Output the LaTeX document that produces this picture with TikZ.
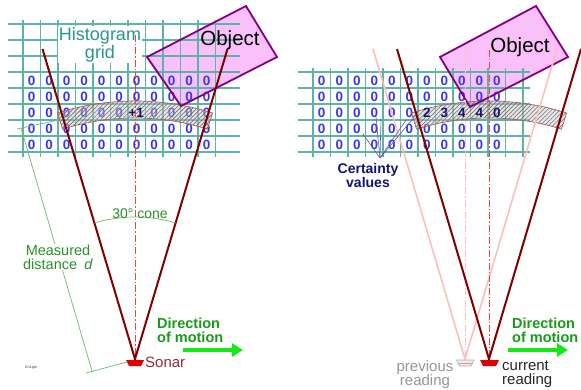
\documentclass[tikz,border=0pt]{standalone}
\usepackage{fontspec}
\setmainfont{Liberation Sans}
\usetikzlibrary{arrows.meta,patterns.meta}
\definecolor{gridc}{RGB}{95,178,168}
\definecolor{gridtext}{RGB}{40,150,140}
\definecolor{zeroc}{RGB}{55,55,240}
\definecolor{navyc}{RGB}{20,20,110}
\definecolor{maroonc}{RGB}{128,0,0}
\definecolor{pinkc}{RGB}{255,190,190}
\definecolor{redc}{RGB}{235,70,70}
\definecolor{objfill}{RGB}{250,192,250}
\definecolor{objdraw}{RGB}{128,0,128}
\definecolor{greenc}{RGB}{40,145,40}
\definecolor{dimc}{RGB}{110,185,110}
\definecolor{dirc}{RGB}{25,155,25}
\definecolor{arrowc}{RGB}{20,235,20}
\definecolor{sonarred}{RGB}{225,0,0}
\definecolor{sonartext}{RGB}{150,40,60}
\definecolor{bandedgec}{RGB}{175,90,90}
\definecolor{prevgray}{RGB}{150,150,150}
\definecolor{certline}{RGB}{90,90,160}
\newcommand\bandpath[1]{plot[domain=-107.5:-72.5,samples=40] ({#1+258*cos(\x)},{359+258*sin(\x)}) -- plot[domain=-72.5:-107.5,samples=40] ({#1+241*cos(\x)},{359+241*sin(\x)}) -- cycle}
\begin{document}
\begin{tikzpicture}[x=1pt,y=-1pt,
  gridline/.style={draw=gridc, line width=1.1pt},
  zero/.style={text=zeroc, font=\bfseries\fontsize{13.5}{13.5}\selectfont, inner sep=0pt},
  boldnum/.style={text=navyc, font=\bfseries\fontsize{13.5}{13.5}\selectfont, inner sep=0pt},
  cone/.style={draw=maroonc, line width=2pt},
  prevcone/.style={draw=pinkc, line width=1.6pt},
  axisline/.style={draw=#1, line width=0.8pt, dash pattern=on 7pt off 2pt on 1.5pt off 2pt},
  objline/.style={draw=objdraw, line width=1.8pt},
  objtext/.style={font=\fontsize{20.5}{20.5}\selectfont, text=black, inner sep=0pt, anchor=base},
  greentext/.style={text=greenc, font=\fontsize{14.5}{14}\selectfont, align=center},
  dimline/.style={draw=dimc, line width=0.7pt},
  dirtext/.style={text=dirc, font=\bfseries\fontsize{14.5}{14}\selectfont, align=left, inner sep=0pt, anchor=north west},
  motionarrow/.style={draw=arrowc, line width=4pt, -{Triangle[length=11pt,width=13pt]}},
  bandfill/.style={fill=gray!40, fill opacity=0.45},
  bandhatch/.style={pattern={Lines[angle=45,distance=3pt,line width=0.6pt]}, pattern color=gray!85!black},
  bandedge/.style={draw=bandedgec, line width=0.7pt},
  labeltext/.style={font=\fontsize{15}{14}\selectfont, inner sep=0pt, align=#1},
]
\useasboundingbox (0,0) rectangle (581,390);
\fill[white] (0,0) rectangle (581,390);

% ---------- objects (fill) ----------
\coordinate (oA) at (147,57); \coordinate (oB) at (246,6);
\coordinate (oC) at (277,57); \coordinate (oD) at (181,106);
\coordinate (pA) at (440,57); \coordinate (pB) at (536,6);
\coordinate (pC) at (568,57); \coordinate (pD) at (470,107);
\fill[objfill] (oA) -- (oB) -- (oC) -- (oD) -- cycle;
\fill[objfill] (pA) -- (pB) -- (pC) -- (pD) -- cycle;

% ---------- grids ----------
\foreach \k in {0,...,11} \draw[gridline] ({23+17.5*\k},20) -- ({23+17.5*\k},157);
\foreach \j in {0,...,8} \draw[gridline] (8,{24+16*\j}) -- (240,{24+16*\j});
\foreach \k in {0,...,12} \draw[gridline] ({313+17.5*\k},68) -- ({313+17.5*\k},157);
\foreach \j in {0,...,5} \draw[gridline] (298,{72+16*\j}) -- (530,{72+16*\j});

\node[text=gridtext, font=\fontsize{18}{16}\selectfont, align=center, fill=white, inner sep=1pt] (hgrid) at (100,44.5) {Histogram\\grid};

% ---------- zeros ----------
\foreach \r in {0,1,3,4} \foreach \c in {0,...,10} {
  \node[zero] (zl-\r-\c) at ({31.75+17.5*\c},{81+16*\r}) {0};
  \node[zero] (zr-\r-\c) at ({321.75+17.5*\c},{81+16*\r}) {0};
}
\foreach \c in {0,1,2,3,4,5,7,8,9,10} \node[zero] (zl-2-\c) at ({31.75+17.5*\c},113) {0};
\foreach \c in {0,...,5} \node[zero] (zr-2-\c) at ({321.75+17.5*\c},113) {0};

% ---------- bands ----------
\fill[bandfill] \bandpath{135};
\fill[bandhatch] \bandpath{135};
\draw[bandedge] \bandpath{135};
\fill[bandfill] \bandpath{489};
\fill[bandhatch] \bandpath{489};
\draw[bandedge] \bandpath{489};

% ---------- certainty numbers ----------
\node[boldnum] (plus1) at (136.2,113) {+1};
\node[boldnum] (c6) at (426.75,113) {2};
\node[boldnum] (c7) at (444.25,113) {3};
\node[boldnum] (c8) at (461.75,113) {4};
\node[boldnum] (c9) at (479.25,113) {4};
\node[boldnum] (c10) at (496.75,113) {0};

% ---------- object outlines and labels ----------
\draw[objline] (oA) -- (oB) -- (oC) -- (oD) -- cycle;
\draw[objline] (pA) -- (pB) -- (pC) -- (pD) -- cycle;
\node[objtext] (objL) at (230,46) {Object};
\node[objtext] (objR) at (520,52.5) {Object};

% ---------- sonar geometry ----------
\coordinate (sL) at (135,359);
\coordinate (sLl) at (42.5,49);
\coordinate (sLr) at (227.5,49);
\coordinate (sLc) at (135,35);
\coordinate (sP) at (465,359);
\coordinate (sPl) at (373,49);
\coordinate (sPr) at (557,49);
\coordinate (sPc) at (465,50);
\coordinate (sC) at (489,359);
\coordinate (sCl) at (397,49);
\coordinate (sCr) at (581,49);
\coordinate (sCc) at (489,50);

\draw[axisline=redc] (sLc) -- (sL);
\draw[axisline=pinkc] (sPc) -- (sP);
\draw[prevcone] (sPl) -- (sP) -- (sPr);
\draw[axisline=redc] (sCc) -- (sC);
\draw[cone] (sLl) -- (sL) -- (sLr);
\draw[cone] (sCl) -- (sC) -- (sCr);

% sonar heads
\fill[sonarred] (126,360) -- (144,360) -- (141,366) -- (129,366) -- cycle;
\fill[sonarred] (480,360) -- (499,360) -- (496,366) -- (483,366) -- cycle;
\filldraw[fill=pinkc!40!white, draw=prevgray!80, line width=0.6pt] (456.5,360) -- (474,360) -- (471,366) -- (459.5,366) -- cycle;
\draw[prevgray!80, line width=0.5pt] (458,363) -- (472.5,363);

% ---------- 30 deg cone ----------
\draw[dimline] plot[domain=-106.6:-73.4,samples=30] ({135+142*cos(\x)},{359+142*sin(\x)});
\node[greentext, anchor=base, inner sep=0pt, font=\fontsize{14}{14}\selectfont] (cone30) at (140,219) {30° cone};

% ---------- measured distance ----------
\coordinate (eT1) at (63,119); \coordinate (eT2) at (17,129);
\coordinate (dT) at (21,128); \coordinate (dB) at (92,371);
\coordinate (eB1) at (127,362); \coordinate (eB2) at (86,373);
\draw[dimline] (eT1) -- (eT2);
\draw[dimline] (dT) -- (dB);
\draw[dimline] (eB1) -- (eB2);
\node[greentext, fill=white, inner sep=1pt] (meas) at (58,257) {Measured\\distance\enspace\textit{d}};

% ---------- sonar labels ----------
\node[text=sonartext, font=\fontsize{15}{15}\selectfont, anchor=base west, inner sep=0pt] (sonar) at (145,367) {Sonar};
\node[labeltext=center, text=prevgray, anchor=north] (prev) at (425,360.5) {previous\\reading};
\node[labeltext=left, text=black!85, anchor=north west] (curr) at (502,360.5) {current\\reading};

% ---------- direction of motion ----------
\node[dirtext] (dirL) at (157,318) {Direction\\of motion};
\node[dirtext] (dirR) at (512,318) {Direction\\of motion};
\coordinate (aL1) at (183,350); \coordinate (aL2) at (243,350);
\coordinate (aR1) at (508,350); \coordinate (aR2) at (568,350);
\draw[motionarrow] (aL1) -- (aL2);
\draw[motionarrow] (aR1) -- (aR2);

% ---------- certainty values ----------
\node[text=navyc, font=\bfseries\fontsize{14}{14}\selectfont, align=center, inner sep=0pt, anchor=north] (cert) at (368,163) {Certainty\\values};
\coordinate (cj) at (380,158);
\coordinate (ce1) at (363,134);
\coordinate (ce2) at (376,117);
\coordinate (ce3) at (381,119);
\coordinate (ce4) at (406,120);
\coordinate (ce5) at (416,115);
\foreach \e in {ce1,ce2,ce3,ce4,ce5} \draw[certline, line width=0.6pt] (cj) -- (\e);

% ---------- signature ----------
\node[text=black!70, font=\fontsize{4}{4}\selectfont, inner sep=0pt] (sig) at (31,368) {AnLgw};
\end{tikzpicture}
\end{document}
